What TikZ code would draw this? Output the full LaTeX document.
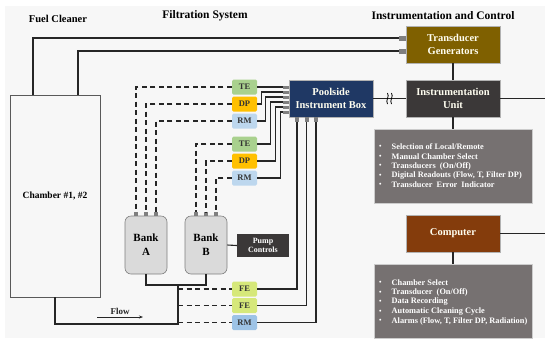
\documentclass[tikz,border=0pt]{standalone}
\usepackage{fontspec}
\setmainfont{Liberation Serif}
\usepackage{tikz}
\usetikzlibrary{arrows.meta}

\definecolor{tgbrown}{HTML}{7F6000}
\definecolor{unitgray}{HTML}{3B3838}
\definecolor{poolblue}{HTML}{1F3864}
\definecolor{compbrown}{HTML}{843C0C}
\definecolor{listgray}{HTML}{767171}
\definecolor{tegreen}{HTML}{A9D18E}
\definecolor{dpgold}{HTML}{FFC000}
\definecolor{rmblue}{HTML}{BDD7EE}
\definecolor{rmdeep}{HTML}{9DC3E6}
\definecolor{feyellow}{HTML}{D6E87A}
\definecolor{bankgray}{HTML}{DADADA}
\definecolor{stubgray}{HTML}{7F7F7F}
\definecolor{bggray}{HTML}{F7F7F7}

\tikzset{
  title/.style={font=\bfseries\fontsize{11.5}{13}\selectfont},
  blockbox/.style={draw=white!70!black, line width=0.4pt, text=white!94!yellow, align=center,
    minimum width=94, minimum height=37, inner sep=0, font=\bfseries\fontsize{10.5}{13}\selectfont},
  sensorbox/.style={rounded corners=1.5pt, minimum width=25, minimum height=15, inner sep=0,
    text=black!80, font=\bfseries\fontsize{8.5}{9}\selectfont},
  listbox/.style={fill=listgray, draw=white!80!black, line width=0.4pt, minimum width=158, minimum height=74},
  listitem/.style={anchor=west, inner sep=0, text=white!92, font=\bfseries\fontsize{8.3}{9}\selectfont},
  bankbox/.style={rounded corners=6pt, fill=bankgray, draw=stubgray, line width=0.6pt,
    minimum width=42, minimum height=58, align=center, font=\bfseries\fontsize{11}{14}\selectfont},
  stubbox/.style={fill=stubgray, inner sep=0},
  wire/.style={line width=1.1pt, draw=black!85},
  dwire/.style={wire, dash pattern=on 5pt off 3.5pt}
}

\begin{document}
\begin{tikzpicture}[x=1pt,y=-1pt]

% canvas
\useasboundingbox (0,0) rectangle (545,338);
\fill[white] (0,0) rectangle (545,338);
\fill[bggray] (5,6) rectangle (545,338);

% Headings
\node[title, font=\bfseries\fontsize{10.5}{13}\selectfont] (tfuel) at (58,19) {Fuel Cleaner};
\node[title] (tfilt) at (205,16) {Filtration System};
\node[title] (tinst) at (443,16) {Instrumentation and Control};

% Fuel cleaner chamber
\node[draw=black!65, fill=bggray, line width=0.6pt, minimum width=90, minimum height=202,
  font=\bfseries\fontsize{9.5}{11}\selectfont] (chamber) at (55,196) {Chamber \#1, \#2};

% Instrumentation and control blocks
\node[blockbox, fill=tgbrown] (tg) at (453,44.5) {Transducer\\Generators};
\node[blockbox, fill=unitgray] (iu) at (453,98.5) {Instrumentation\\Unit};
\node[blockbox, fill=poolblue, minimum width=84] (pib) at (331,98.5) {Poolside\\Instrument Box};
\node[blockbox, fill=compbrown] (comp) at (453,233.5) {Computer};
\node[listbox] (list1) at (453,166) {};
\node[listbox] (list2) at (453,301) {};
\coordinate (iuout) at (545,98.5);
\coordinate (compout) at (545,233.5);

% stubs on transducer generators and poolside box
\node[stubbox, minimum width=7, minimum height=5] (tg1) at (402.5,38) {};
\node[stubbox, minimum width=7, minimum height=5] (tg2) at (402.5,51) {};
\foreach \i/\y in {1/87, 2/92, 3/97, 4/102, 5/107, 6/112}
  \node[stubbox, minimum width=6, minimum height=3] (pl\i) at (286,\y) {};
\foreach \i/\x in {1/297, 2/306.5, 3/316}
  \node[stubbox, minimum width=4, minimum height=5] (pb\i) at (\x,119.5) {};

% list texts
\foreach \i/\y/\t in {1/147/{Selection of Local/Remote}, 2/156.5/{Manual Chamber Select},
    3/166/{Transducers\ \ (On/Off)}, 4/175.5/{Digital Readouts (Flow, T, Filter DP)},
    5/185/{Transducer\ \ Error\ \ Indicator}} {
  \node[listitem] (lb\i) at (379,\y) {\fontsize{7}{8}\selectfont\textbullet};
  \node[listitem] (la\i) at (391.5,\y) {\t};
}
\foreach \i/\y/\t in {1/283/{Chamber Select}, 2/292.5/{Transducer\ \ (On/Off)},
    3/302/{Data Recording}, 4/311.5/{Automatic Cleaning Cycle},
    5/321/{Alarms (Flow, T, Filter DP, Radiation)}} {
  \node[listitem] (mb\i) at (379,\y) {\fontsize{7}{8}\selectfont\textbullet};
  \node[listitem] (ma\i) at (391.5,\y) {\t};
}

% Sensors
\node[sensorbox, fill=tegreen] (te1) at (244.5,87) {TE};
\node[sensorbox, fill=dpgold] (dp1) at (244.5,104) {DP};
\node[sensorbox, fill=rmblue] (rm1) at (244.5,121) {RM};
\node[sensorbox, fill=tegreen] (te2) at (244.5,144) {TE};
\node[sensorbox, fill=dpgold] (dp2) at (244.5,161) {DP};
\node[sensorbox, fill=rmblue] (rm2) at (244.5,178) {RM};
\node[sensorbox, fill=feyellow] (fe1) at (244.5,289) {FE};
\node[sensorbox, fill=feyellow] (fe2) at (244.5,305.5) {FE};
\node[sensorbox, fill=rmdeep] (rm3) at (244.5,322.5) {RM};

% Filter banks and pump
\node[bankbox] (banka) at (146,245) {Bank\\A};
\node[bankbox] (bankb) at (206,245) {Bank\\B};
\foreach \i/\x in {1/136, 2/146, 3/156}
  \node[stubbox, minimum width=4, minimum height=4] (ba\i) at (\x,214) {};
\foreach \i/\x in {1/196, 2/206, 3/216}
  \node[stubbox, minimum width=4, minimum height=4] (bb\i) at (\x,214) {};
\node[fill=unitgray, text=white!92, minimum width=52, minimum height=23, inner sep=0, align=center,
  font=\bfseries\fontsize{8}{9.5}\selectfont] (pump) at (263,245.5) {Pump\\Controls};
\coordinate (jt) at (178,285);
\coordinate (jn) at (178,324);

% Signal wires to transducer generators
\draw[wire] ([xshift=-22pt]chamber.north) |- (tg1.west);
\draw[wire] ([xshift=23pt]chamber.north) |- (tg2.west);

% Control wiring
\draw[wire] (tg.south) -- (iu.north);
\draw[wire] (iu.south) -- (list1.north);
\draw[wire] (iu.east) -- (iuout);
\draw[wire] (pib.east) -- (iu.west);
\draw[wire] (comp.east) -- (compout);
\draw[wire] (comp.south) -- (list2.north);
% line break marks
\foreach \x in {387.5, 391.5}
  \draw[line width=0.8pt] (\x,93) .. controls (\x+2.5,96.5) and (\x-2.5,100.5) .. (\x,104);

% Sensors to poolside box
\draw[wire] (te1.east) -- (pl1.west);
\draw[wire] (dp1.east) -- ++(4,0) |- (pl2.west);
\draw[wire] (rm1.east) -- ++(8.5,0) |- (pl3.west);
\draw[wire] (te2.east) -- ++(13,0) |- (pl4.west);
\draw[wire] (dp2.east) -- ++(18,0) |- (pl5.west);
\draw[wire] (rm2.east) -- ++(23,0) |- (pl6.west);
\draw[wire] (fe1.east) -| (pb1.south);
\draw[wire] (fe2.east) -| (pb2.south);
\draw[wire] (rm3.east) -| (pb3.south);

% Sensors to banks
\draw[dwire] (te1.west) -| (ba1.north);
\draw[dwire] (dp1.west) -| (ba2.north);
\draw[dwire] (rm1.west) -| (ba3.north);
\draw[dwire] (te2.west) -| (bb1.north);
\draw[dwire] (dp2.west) -| (bb2.north);
\draw[dwire] (rm2.west) -| (bb3.north);

% Piping
\draw[wire] (banka.south) |- (jt) -| (bankb.south);
\draw[wire] (chamber.south) |- (jn) -- (jt);
\draw[wire] (bankb.east) -- (pump.west);
\draw[dwire] (jt |- fe1.west) -- (fe1.west);
\draw[dwire] (jt |- fe2.west) -- (fe2.west);
\draw[dwire] (jt |- rm3.west) -- (rm3.west);

% Flow direction
\draw[-{Stealth[length=4pt,width=3pt]}, line width=0.6pt, black!85] (97,317) -- node[above, inner sep=2pt,
  font=\bfseries\fontsize{9}{10}\selectfont] (flow) {Flow} (143,317);

\end{tikzpicture}
\end{document}
